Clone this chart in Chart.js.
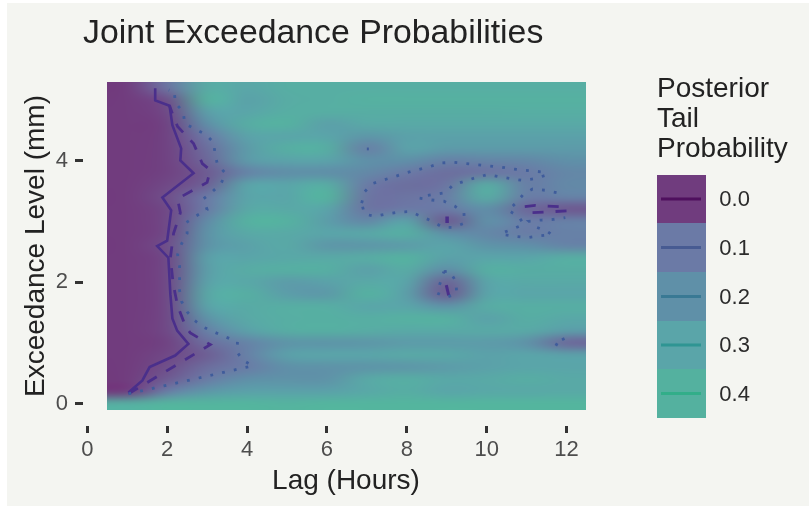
<!DOCTYPE html>
<html>
<head>
<meta charset="utf-8">
<title>Joint Exceedance Probabilities</title>
<script src="https://cdn.jsdelivr.net/npm/chart.js@4"></script>
<style>
    html, body { margin: 0; padding: 0; background: #fff; }
    #paper { position: absolute; left: 7px; top: 3px; width: 802px; height: 503px; background: #f4f5f1; }
    #wrap { position: absolute; left: 0; top: 0; width: 809px; height: 506px; }
</style>
</head>
<body>
<div id="paper"></div>
<div id="wrap"><canvas id="chart" width="809" height="506"></canvas></div>
<script>
const FONT = '"Liberation Sans", Arial, sans-serif';

const lagHours = [1, 2, 3, 4, 5, 6, 7, 8, 9, 10, 11, 12];
const levels = [0, 0.2, 0.4, 0.6, 0.8, 1, 1.2, 1.4, 1.6, 1.8, 2, 2.2, 2.4, 2.6, 2.8, 3, 3.2, 3.4, 3.6, 3.8, 4, 4.2, 4.4, 4.6, 4.8, 5, 5.2];
const xTicks = [0, 2, 4, 6, 8, 10, 12];
const yTicks = [0, 2, 4];

// one row per exceedance level, bottom to top, one value per lag hour
const tailProb = [
    [.38, .42, .42, .42, .41, .42, .42, .42, .42, .42, .42, .42],
    [.00, .12, .24, .28, .28, .28, .32, .36, .30, .32, .32, .33],
    [.00, .05, .11, .20, .21, .21, .33, .37, .32, .33, .36, .33],
    [.00, .03, .08, .11, .20, .21, .22, .23, .25, .28, .30, .30],
    [.00, .02, .055, .13, .28, .30, .30, .33, .32, .28, .30, .28],
    [.00, .01, .08, .14, .22, .22, .23, .25, .25, .25, .21, .07],
    [.00, .02, .13, .28, .36, .38, .35, .33, .33, .33, .33, .26],
    [.00, .02, .22, .33, .37, .38, .37, .39, .39, .28, .36, .32],
    [.00, .02, .30, .34, .37, .37, .30, .30, .21, .35, .37, .37],
    [.00, .02, .33, .38, .26, .24, .40, .27, .05, .30, .30, .30],
    [.00, .02, .29, .32, .25, .28, .33, .30, .06, .30, .33, .33],
    [.00, .02, .27, .35, .38, .38, .27, .35, .18, .38, .36, .36],
    [.00, .02, .28, .30, .32, .33, .35, .40, .28, .30, .30, .37],
    [.00, .03, .22, .28, .33, .23, .23, .25, .30, .22, .20, .14],
    [.00, .02, .22, .33, .33, .30, .32, .38, .20, .16, .11, .13],
    [.00, .02, .18, .40, .40, .26, .16, .30, .045, .21, .11, .13],
    [.00, .02, .11, .33, .33, .30, .09, .10, .10, .20, .07, .045],
    [.00, .03, .10, .30, .30, .42, .09, .09, .12, .37, .11, .14],
    [.00, .02, .06, .30, .30, .37, .10, .08, .09, .37, .12, .17],
    [.00, .01, .05, .14, .19, .19, .17, .10, .08, .09, .10, .16],
    [.00, .01, .07, .25, .29, .29, .20, .20, .13, .15, .16, .20],
    [.00, .01, .08, .25, .38, .38, .12, .29, .25, .25, .25, .25],
    [.00, .01, .10, .29, .30, .30, .23, .28, .28, .28, .28, .28],
    [.00, .01, .20, .36, .40, .27, .33, .33, .33, .33, .33, .33],
    [.00, .02, .28, .30, .37, .37, .36, .36, .36, .36, .37, .37],
    [.00, .03, .41, .28, .35, .37, .39, .39, .39, .39, .39, .39],
    [.00, .09, .35, .31, .37, .37, .37, .37, .37, .37, .37, .37]
];

// contour paths as [lag, level]
const solidMain = [[1.03, .18], [1.38, .38], [1.56, .6], [2.2, .79], [2.53, .98], [2.25, 1.2], [2.13, 1.4], [2.08, 1.8], [2.03, 2.4], [1.75, 2.59], [2, 2.68], [2.1, 3.18], [1.88, 3.39], [2.66, 3.79], [2.33, 4], [2.35, 4.2], [2.13, 4.58], [2.06, 4.9], [1.7, 4.99], [1.7, 5.19]];
const solidPeak3 = [[9.01, 3.08], [9.01, 2.97]];
const solidPeak2 = [[8.99, 1.95], [9.05, 1.78]];

const dashedMain = [[1.03, .16], [3.08, .97], [2.58, 1.16], [2.46, 1.27], [2.26, 1.61], [2.15, 1.97], [2.08, 2.4], [2.16, 2.8], [2.33, 3.14], [2.26, 3.37], [3, 3.64], [3.08, 3.84], [2.88, 3.95], [2.76, 4.13], [2.66, 4.28], [2.26, 4.56], [2.13, 4.77], [2.06, 4.9]];
const dashedRight = [[12, 3.17], [11.11, 3.14], [10.93, 3.24], [11.22, 3.26], [11.82, 3.24]];

const dottedMain = [[1.03, .16], [4.14, .62], [3.88, .72], [3.75, .85], [3.76, 1.02], [3.48, 1.09], [3.2, 1.17], [2.93, 1.25], [2.68, 1.37], [2.5, 1.51], [2.36, 1.68], [2.31, 1.86], [2.31, 2.26], [2.26, 2.45], [2.36, 2.63], [2.5, 2.8], [2.48, 2.98], [2.73, 3.09], [3, 3.19], [2.91, 3.37], [3.12, 3.48], [3.35, 3.62], [3.46, 3.79], [3.26, 3.93], [3.2, 4.11], [3.16, 4.3], [2.96, 4.43], [2.69, 4.52], [2.44, 4.61], [2.4, 4.8], [2.2, 4.95], [2.18, 5.14], [2.04, 5.16]];
const dottedLoop = [[6.87, 3.3], [6.95, 3.49], [7.14, 3.62], [7.42, 3.68], [7.72, 3.74], [8, 3.8], [8.29, 3.85], [8.58, 3.9], [8.87, 3.96], [9.17, 3.97], [9.47, 3.95], [9.77, 3.93], [10.07, 3.91], [10.37, 3.89], [10.67, 3.86], [10.96, 3.84], [11.12, 3.83], [11.42, 3.81], [11.5, 3.76], [11.2, 3.7], [10.92, 3.67], [10.62, 3.7], [10.33, 3.73], [10.03, 3.77], [9.74, 3.72], [9.45, 3.66], [9.16, 3.6], [8.97, 3.47], [8.67, 3.44], [8.37, 3.41], [8.32, 3.38], [8.62, 3.35], [8.93, 3.33], [9.2, 3.25], [9.43, 3.14], [9.45, 2.97], [9.17, 2.9], [8.9, 2.9], [8.64, 3], [8.36, 3.08], [8.08, 3.16], [7.79, 3.15], [7.49, 3.12], [7.2, 3.08], [6.94, 3.12], [6.87, 3.3]];
const dottedRight = [[11.75, 3.47], [11.46, 3.51], [11.15, 3.53], [10.94, 3.46], [10.75, 3.31], [10.54, 3.18], [10.8, 3.08], [10.93, 2.95], [10.65, 2.87], [10.36, 2.8], [10.43, 2.78], [10.73, 2.75], [11.03, 2.73], [11.33, 2.76], [11.63, 2.78], [11.5, 2.84], [11.21, 2.91], [11.06, 3], [11.37, 3.02], [11.67, 3.03], [11.97, 3.06]];
const dottedPeak2 = [[8.93, 2.17], [9.07, 2.18], [9.23, 2.01], [9.25, 1.81], [9, 1.75], [8.75, 1.82], [8.85, 2.01], [8.93, 2.17]];
const dottedPeak1 = [[11.95, 1.07], [11.7, .99], [11.97, .89]];
const dottedSpot = [[7, 4.19], [7.05, 4.19]];

const legendLabels = ['0.0', '0.1', '0.2', '0.3', '0.4'];
const legendEdges = [175, 223, 272, 321, 369, 418];
const legendFill = ['#703c7e', '#6b7aa6', '#5f90a8', '#5aa5a9', '#54b19f'];
const legendLine = ['#440154', '#3b528b', '#2c728e', '#21908c', '#27ad81'];

const colorStops = [[0, [113, 60, 126]], [.1, [107, 122, 166]], [.2, [95, 144, 168]], [.3, [90, 165, 169]], [.43, [84, 182, 157]]];

function colorFor(v) {
    for (let i = 1; i < colorStops.length; i++) {
        if (v <= colorStops[i][0]) {
            const [a, ca] = colorStops[i - 1];
            const [b, cb] = colorStops[i];
            const t = (v - a) / (b - a);
            return ca.map((c, k) => Math.round(c + (cb[k] - c) * t));
        }
    }
    return colorStops[colorStops.length - 1][1];
}

const heatmap = {
    id: 'heatmap',
    beforeDatasetsDraw(chart) {
        const { ctx, scales: { x, y } } = chart;
        const off = document.createElement('canvas');
        off.width = lagHours.length;
        off.height = levels.length;
        const o = off.getContext('2d');
        tailProb.forEach((row, r) => {
            row.forEach((v, c) => {
                o.fillStyle = `rgb(${colorFor(v).join(',')})`;
                o.fillRect(c, levels.length - 1 - r, 1, 1);
            });
        });
        const left = x.getPixelForValue(lagHours[0] - 0.5);
        const right = x.getPixelForValue(lagHours[lagHours.length - 1] + 0.5);
        const top = y.getPixelForValue(levels[levels.length - 1] + 0.1);
        const bottom = y.getPixelForValue(levels[0] - 0.1);
        ctx.save();
        ctx.imageSmoothingEnabled = true;
        ctx.imageSmoothingQuality = 'high';
        ctx.drawImage(off, left, top, right - left, bottom - top);
        ctx.restore();
    }
};

const sideText = {
    id: 'sideText',
    afterDraw(chart) {
        const { ctx } = chart;
        ctx.save();
        ctx.fillStyle = '#222';
        ctx.textBaseline = 'alphabetic';
        ctx.font = `28px ${FONT}`;
        ctx.textAlign = 'center';
        ctx.fillText('Lag (Hours)', 346, 488.5);
        ctx.save();
        ctx.translate(43.5, 246);
        ctx.rotate(-Math.PI / 2);
        ctx.fillText('Exceedance Level (mm)', 0, 0);
        ctx.restore();

        ctx.textAlign = 'left';
        ['Posterior', 'Tail', 'Probability'].forEach((t, i) => ctx.fillText(t, 657, 96.7 + i * 30));

        legendLabels.forEach((label, i) => {
            const top = legendEdges[i];
            const bottom = legendEdges[i + 1];
            const mid = (top + bottom) / 2;
            ctx.fillStyle = legendFill[i];
            ctx.fillRect(657, top, 49, bottom - top);
            ctx.strokeStyle = legendLine[i];
            ctx.globalAlpha = 0.75;
            ctx.lineWidth = 2.8;
            ctx.beginPath();
            ctx.moveTo(661, mid);
            ctx.lineTo(701, mid);
            ctx.stroke();
            ctx.globalAlpha = 1;
            ctx.fillStyle = '#2b2b2b';
            ctx.font = `22px ${FONT}`;
            ctx.textBaseline = 'middle';
            ctx.fillText(label, 719.3, mid + 1);
        });
        ctx.restore();
    }
};

const toPoints = path => path.map(([x, y]) => ({ x, y }));

function contour(path, color, width, dash) {
    return {
        data: toPoints(path),
        showLine: true,
        pointRadius: 0,
        borderColor: color,
        borderWidth: width,
        borderDash: dash,
        tension: 0
    };
}

const SOLID = '#4a2f8b';
const DOTTED = '#3f5c9b';

new Chart(document.getElementById('chart'), {
    type: 'scatter',
    data: {
        datasets: [
            contour(dottedMain, DOTTED, 2.8, [2.8, 9.2]),
            contour(dottedLoop, DOTTED, 2.8, [2.8, 9.2]),
            contour(dottedRight, DOTTED, 2.8, [2.8, 9.2]),
            contour(dottedPeak2, DOTTED, 2.8, [2.8, 9.2]),
            contour(dottedPeak1, DOTTED, 2.8, [2.8, 9.2]),
            contour(dottedSpot, DOTTED, 2.8, []),
            contour(dashedMain, SOLID, 2.8, [11, 11]),
            contour(dashedRight, SOLID, 2.8, [11, 12]),
            contour(solidMain, SOLID, 2.6, []),
            contour(solidPeak3, SOLID, 3.5, []),
            contour(solidPeak2, SOLID, 3, [])
        ]
    },
    options: {
        responsive: false,
        animation: false,
        layout: { padding: { top: 13, left: 0, right: 222, bottom: 0 } },
        plugins: {
            legend: { display: false },
            tooltip: { enabled: false },
            title: {
                display: true,
                text: 'Joint Exceedance Probabilities',
                align: 'start',
                fullSize: false,
                color: '#222',
                font: { family: FONT, size: 33.8, weight: 'normal' },
                padding: { top: 0, bottom: 28.44 }
            }
        },
        scales: {
            x: {
                type: 'linear',
                min: -0.108,
                max: 12.513,
                afterBuildTicks: s => { s.ticks = xTicks.map(value => ({ value })); },
                afterFit: s => { s.height = 80; },
                grid: { drawOnChartArea: false, drawTicks: true, tickLength: 7, tickWidth: 3, tickColor: '#333' },
                border: { display: false },
                ticks: { color: '#4d4d4d', padding: 4, maxRotation: 0, font: { family: FONT, size: 22 } }
            },
            y: {
                type: 'linear',
                min: -0.37,
                max: 5.292,
                afterBuildTicks: s => { s.ticks = yTicks.map(value => ({ value })); },
                afterFit: s => { s.width = 83; },
                grid: { drawOnChartArea: false, drawTicks: true, tickLength: 8, tickWidth: 3, tickColor: '#333' },
                border: { display: false },
                ticks: { color: '#4d4d4d', padding: 7, font: { family: FONT, size: 22 } }
            }
        }
    },
    plugins: [heatmap, sideText]
});
</script>
</body>
</html>
